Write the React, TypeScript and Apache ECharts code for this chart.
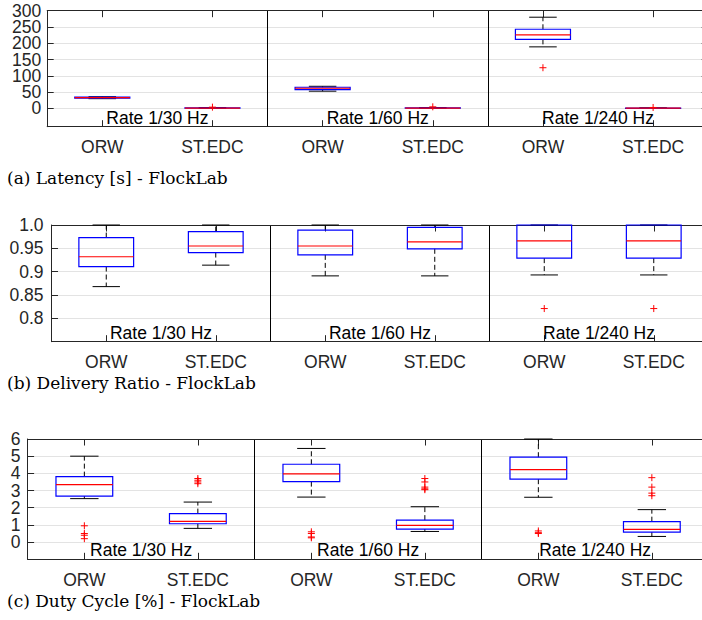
import React, { useEffect, useRef } from 'react';
import * as echarts from 'echarts';

const categories = ['ORW', 'ST.EDC', 'ORW', 'ST.EDC', 'ORW', 'ST.EDC'];
const rateLabels = ['Rate 1/30 Hz', 'Rate 1/60 Hz', 'Rate 1/240 Hz'];
const captions = [
  '(a) Latency [s] - FlockLab',
  '(b) Delivery Ratio - FlockLab',
  '(c) Duty Cycle [%] - FlockLab',
];

// [lower whisker, Q1, median, Q3, upper whisker]
const latencyBoxes = [
  [30, 31.5, 33, 34.5, 36],
  [0.3, 0.8, 1.2, 1.8, 2.8],
  [53, 58, 62, 65, 68],
  [0.3, 0.8, 1.2, 1.8, 2.8],
  [189, 212, 226, 243, 280],
  [0.2, 0.5, 0.8, 1.2, 2],
];
const latencyOutliers = [[1, 4], [3, 5], [4, 125], [5, 3]];
const latencyTicks = [0, 50, 100, 150, 200, 250, 300];

const deliveryBoxes = [
  [0.868, 0.911, 0.932, 0.973, 1.0],
  [0.914, 0.941, 0.955, 0.986, 1.0],
  [0.891, 0.936, 0.955, 0.989, 1.0],
  [0.891, 0.949, 0.964, 0.995, 1.0],
  [0.893, 0.929, 0.966, 1.0, 1.0],
  [0.893, 0.929, 0.966, 1.0, 1.0],
];
const deliveryOutliers = [[4, 0.821], [5, 0.821]];
const deliveryTicks = [0.8, 0.85, 0.9, 0.95, 1.0];

const dutyBoxes = [
  [2.53, 2.68, 3.35, 3.81, 5.0],
  [0.8, 1.07, 1.21, 1.66, 2.33],
  [2.62, 3.52, 3.97, 4.53, 5.45],
  [0.62, 0.76, 0.97, 1.28, 2.06],
  [2.61, 3.66, 4.22, 4.94, 6.0],
  [0.33, 0.58, 0.74, 1.19, 1.89],
];
const dutyOutliers = [
  [0, 0.95], [0, 0.5], [0, 0.4], [0, 0.2],
  [1, 3.7], [1, 3.6], [1, 3.5], [1, 3.4],
  [2, 0.6], [2, 0.5], [2, 0.3], [2, 0.25],
  [3, 3.7], [3, 3.5], [3, 3.2], [3, 3.1], [3, 3.05],
  [4, 0.65], [4, 0.55], [4, 0.5],
  [5, 3.75], [5, 3.2], [5, 2.85], [5, 2.7],
];
const dutyTicks = [0, 1, 2, 3, 4, 5, 6];

const SANS = '"Liberation Sans", Arial, Helvetica, sans-serif';
const SERIF = '"DejaVu Serif", serif';
const AXIS = '#262626';
const GRIDC = '#e3e3e3';
const FS = 17.5;

const panels = [
  { boxes: latencyBoxes, outliers: latencyOutliers, ticks: latencyTicks, min: -56, max: 300,
    grid: { left: 47.2, top: 10.7, width: 661, height: 116 }, labelMargin: 6, xMargin: 11,
    fmt: (v: number) => String(v) },
  { boxes: deliveryBoxes, outliers: deliveryOutliers, ticks: deliveryTicks, min: 0.75, max: 1.0,
    grid: { left: 51.5, top: 225, width: 657, height: 116.7 }, labelMargin: 8, xMargin: 11.5,
    fmt: (v: number) => (v === 1 ? '1.0' : String(v)) },
  { boxes: dutyBoxes, outliers: dutyOutliers, ticks: dutyTicks, min: -1, max: 6,
    grid: { left: 27.6, top: 439, width: 681, height: 120.3 }, labelMargin: 7, xMargin: 12,
    fmt: (v: number) => String(v) },
];
const captionY = [177.8, 383, 600.5];

const boxRender = (_params: any, api: any) => {
  const i = api.value(0);
  const vals = [1, 2, 3, 4, 5].map((k) => api.value(k));
  const band = api.size([1, 0])[0];
  const half = band * 0.25;
  const capHalf = band * 0.125;
  const cx = api.coord([i, vals[2]])[0];
  const y = vals.map((v: number) => api.coord([i, v])[1]);
  const whisk = { stroke: '#000', lineWidth: 1, lineDash: [5, 3], fill: null };
  const solid = { stroke: '#000', lineWidth: 1, fill: null };
  return {
    type: 'group',
    children: [
      { type: 'line', shape: { x1: cx, y1: y[3], x2: cx, y2: y[4] }, style: whisk },
      { type: 'line', shape: { x1: cx, y1: y[1], x2: cx, y2: y[0] }, style: whisk },
      { type: 'line', shape: { x1: cx - capHalf, y1: y[4], x2: cx + capHalf, y2: y[4] }, style: solid },
      { type: 'line', shape: { x1: cx - capHalf, y1: y[0], x2: cx + capHalf, y2: y[0] }, style: solid },
      { type: 'rect', shape: { x: cx - half, y: y[3], width: 2 * half, height: y[1] - y[3] },
        style: { stroke: '#0000ff', fill: null, lineWidth: 1.2 } },
      { type: 'line', shape: { x1: cx - half, y1: y[2], x2: cx + half, y2: y[2] },
        style: { stroke: '#ff0000', lineWidth: 1.2 } },
    ],
  };
};

const plusRender = (_params: any, api: any) => {
  const p = api.coord([api.value(0), api.value(1)]);
  const s = 3.5;
  const st = { stroke: '#ff0000', lineWidth: 1 };
  return {
    type: 'group',
    children: [
      { type: 'line', shape: { x1: p[0] - s, y1: p[1], x2: p[0] + s, y2: p[1] }, style: st },
      { type: 'line', shape: { x1: p[0], y1: p[1] - s, x2: p[0], y2: p[1] + s }, style: st },
    ],
  };
};

const makeTickLabelRender = (fmt: (v: number) => string, margin: number) => (params: any, api: any) => {
  const v = api.value(1);
  const yPix = api.coord([0, v])[1];
  const x0 = params.coordSys.x;
  return {
    type: 'text',
    x: x0 - margin,
    y: yPix,
    style: { text: fmt(v), align: 'right', verticalAlign: 'middle', font: `${FS}px ${SANS}`, fill: AXIS },
  };
};

export default function App() {
  const ref = useRef<HTMLDivElement>(null);
  useEffect(() => {
    if (!ref.current) return;
    const chart = echarts.init(ref.current, null, { renderer: 'svg' });
    const grids: any[] = [];
    const xAxes: any[] = [];
    const yAxes: any[] = [];
    const series: any[] = [];
    panels.forEach((p, g) => {
      grids.push({ ...p.grid, containLabel: false, outerBoundsMode: 'none' });
      xAxes.push({
        type: 'category', gridIndex: g, data: categories, position: 'bottom',
        axisLine: { show: true, onZero: false, lineStyle: { color: AXIS, width: 1 } },
        axisTick: { show: true, inside: true, alignWithLabel: true, length: 6.5, lineStyle: { color: AXIS } },
        axisLabel: { interval: 0, margin: p.xMargin, fontSize: FS, fontFamily: SANS, color: AXIS },
        splitLine: { show: false },
      });
      xAxes.push({
        type: 'category', gridIndex: g, data: categories, position: 'top',
        axisLine: { show: true, onZero: false, lineStyle: { color: AXIS, width: 1 } },
        axisTick: { show: true, inside: true, alignWithLabel: true, length: 6.5, lineStyle: { color: AXIS } },
        axisLabel: { show: false },
        splitLine: { show: false },
      });
      xAxes.push({
        type: 'category', gridIndex: g, data: rateLabels, position: 'bottom',
        axisLine: { show: false, onZero: false },
        axisTick: { show: false },
        axisLabel: { inside: true, interval: 0, margin: 0, fontSize: FS, fontFamily: SANS, color: '#000' },
        splitLine: { show: true, interval: 0, lineStyle: { color: '#000', width: 1 } },
      });
      yAxes.push({
        type: 'value', gridIndex: g, min: p.min, max: p.max, position: 'left',
        axisLine: { show: true, onZero: false, lineStyle: { color: AXIS, width: 1 } },
        axisTick: { show: true, inside: true, length: 6.5, customValues: p.ticks, lineStyle: { color: AXIS } },
        axisLabel: { show: false, customValues: p.ticks },
        splitLine: { show: true, lineStyle: { color: GRIDC, width: 1 } },
      });
      yAxes.push({
        type: 'value', gridIndex: g, min: p.min, max: p.max, position: 'right',
        axisLine: { show: true, onZero: false, lineStyle: { color: AXIS, width: 1 } },
        axisTick: { show: true, inside: true, length: 6.5, customValues: p.ticks, lineStyle: { color: AXIS } },
        axisLabel: { show: false },
        splitLine: { show: false },
      });
      series.push({
        type: 'custom', xAxisIndex: g * 3, yAxisIndex: g * 2,
        data: p.boxes.map((b, i) => [i, ...b]),
        encode: { x: 0, y: [1, 2, 3, 4, 5] },
        renderItem: boxRender, z: 3,
      });
      series.push({
        type: 'custom', xAxisIndex: g * 3, yAxisIndex: g * 2,
        data: p.outliers,
        encode: { x: 0, y: 1 },
        renderItem: plusRender, z: 4,
      });
      series.push({
        type: 'custom', xAxisIndex: g * 3, yAxisIndex: g * 2,
        data: p.ticks.map((v) => [0, v]),
        encode: { x: 0, y: 1 },
        clip: false,
        renderItem: makeTickLabelRender(p.fmt, p.labelMargin), z: 5,
      });
    });
    chart.setOption({
      animation: false,
      backgroundColor: '#fff',
      grid: grids,
      xAxis: xAxes,
      yAxis: yAxes,
      series,
      graphic: captions.map((t, k) => ({
        type: 'text', x: 7, y: captionY[k],
        style: { text: t, font: `17px ${SERIF}`, fill: '#000', verticalAlign: 'middle', align: 'left' },
      })),
    });
    return () => chart.dispose();
  }, []);
  return (
    <div
      ref={ref}
      style={{ position: 'fixed', left: 0, top: 0, width: 702, height: 620, background: '#fff' }}
    />
  );
}
